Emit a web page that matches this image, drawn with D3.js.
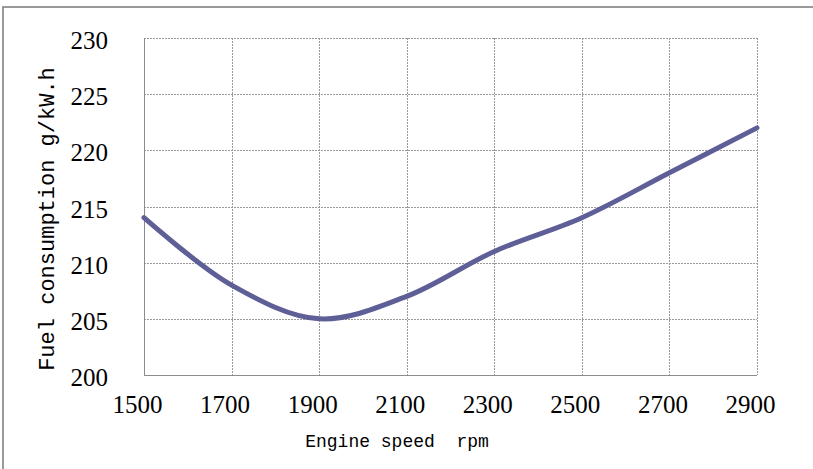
<!DOCTYPE html>
<html>
<head>
<meta charset="utf-8">
<script src="https://cdn.jsdelivr.net/npm/d3@7"></script>
<style>
  body { margin: 0; background: #fff; }
  svg { display: block; }
</style>
</head>
<body>
<div id="chart"></div>
<script>
// Data
const speeds = [1500, 1700, 1900, 2100, 2300, 2500, 2700, 2900];
const fuel = [214, 208, 205, 207, 211, 214, 218, 222];
const xTicks = [1500, 1700, 1900, 2100, 2300, 2500, 2700, 2900];
const yTicks = [200, 205, 210, 215, 220, 225, 230];

const W = 813, H = 469;
const margin = { top: 38, right: 56, bottom: 94, left: 144 };
const width = W - margin.left - margin.right;
const height = H - margin.top - margin.bottom;

const svg = d3.select("#chart").append("svg")
    .attr("width", W)
    .attr("height", H);

// Outer frame
svg.append("rect")
    .attr("x", 3).attr("y", 7)
    .attr("width", W + 10).attr("height", H + 10)
    .attr("fill", "none")
    .attr("stroke", "#808080")
    .attr("stroke-width", 1.6);

const g = svg.append("g")
    .attr("transform", `translate(${margin.left},${margin.top})`);

const x = d3.scaleLinear().domain([1500, 2900]).range([0, width]);
const y = d3.scaleLinear().domain([200, 230]).range([height, 0]);

// Grid lines (dotted)
g.selectAll(".hgrid")
    .data(yTicks.filter(d => d !== 200))
    .enter().append("line")
    .attr("class", "hgrid")
    .attr("x1", 0).attr("x2", width)
    .attr("y1", d => Math.round(y(d)) + 0.5)
    .attr("y2", d => Math.round(y(d)) + 0.5)
    .attr("stroke", "#9a9a9a")
    .attr("stroke-dasharray", "2,1");

g.selectAll(".vgrid")
    .data(xTicks.filter(d => d !== 1500))
    .enter().append("line")
    .attr("class", "vgrid")
    .attr("x1", d => Math.round(x(d)) + 0.5)
    .attr("x2", d => Math.round(x(d)) + 0.5)
    .attr("y1", 0).attr("y2", height)
    .attr("stroke", "#9a9a9a")
    .attr("stroke-dasharray", "2,1");

// Axis lines (solid)
g.append("line")
    .attr("x1", 0.5).attr("x2", 0.5)
    .attr("y1", 0).attr("y2", height)
    .attr("stroke", "#8c8c8c");
g.append("line")
    .attr("x1", 0).attr("x2", width)
    .attr("y1", height + 0.5).attr("y2", height + 0.5)
    .attr("stroke", "#8c8c8c");

// Axes with the library, domain/tick lines hidden
const yAxis = g.append("g")
    .call(d3.axisLeft(y).tickValues(yTicks).tickFormat(d3.format("d")).tickSize(0).tickPadding(36));
const xAxis = g.append("g")
    .attr("transform", `translate(0,${height})`)
    .call(d3.axisBottom(x).tickValues(xTicks).tickFormat(d3.format("d")).tickSize(0).tickPadding(20));

[yAxis, xAxis].forEach(a => {
    a.select(".domain").remove();
    a.selectAll("text")
        .style("font-family", "'Liberation Serif', 'DejaVu Serif', serif")
        .style("font-size", "25px")
        .attr("fill", "#000");
});
yAxis.selectAll("text").attr("dy", "0.42em");
xAxis.selectAll("text").attr("dx", -7).attr("dy", "0.71em");

// Fuel line
const line = d3.line()
    .x((d, i) => x(speeds[i]))
    .y(d => y(d))
    .curve(d3.curveCatmullRom.alpha(0.5));

g.append("path")
    .datum(fuel)
    .attr("d", line)
    .attr("fill", "none")
    .attr("stroke", "#5f5f98")
    .attr("stroke-width", 5)
    .attr("stroke-linecap", "round")
    .attr("stroke-linejoin", "round");

// Axis titles
svg.append("text")
    .attr("x", 397).attr("y", 447)
    .attr("text-anchor", "middle")
    .style("font-family", "'Liberation Mono', 'DejaVu Sans Mono', monospace")
    .style("font-size", "18px")
    .attr("fill", "#000")
    .attr("xml:space", "preserve")
    .text("Engine speed  rpm");

svg.append("text")
    .attr("transform", "translate(54,219) rotate(-90)")
    .attr("text-anchor", "middle")
    .style("font-family", "'Liberation Mono', 'DejaVu Sans Mono', monospace")
    .style("font-size", "22px")
    .attr("fill", "#000")
    .text("Fuel consumption g/kW.h");
</script>
</body>
</html>
